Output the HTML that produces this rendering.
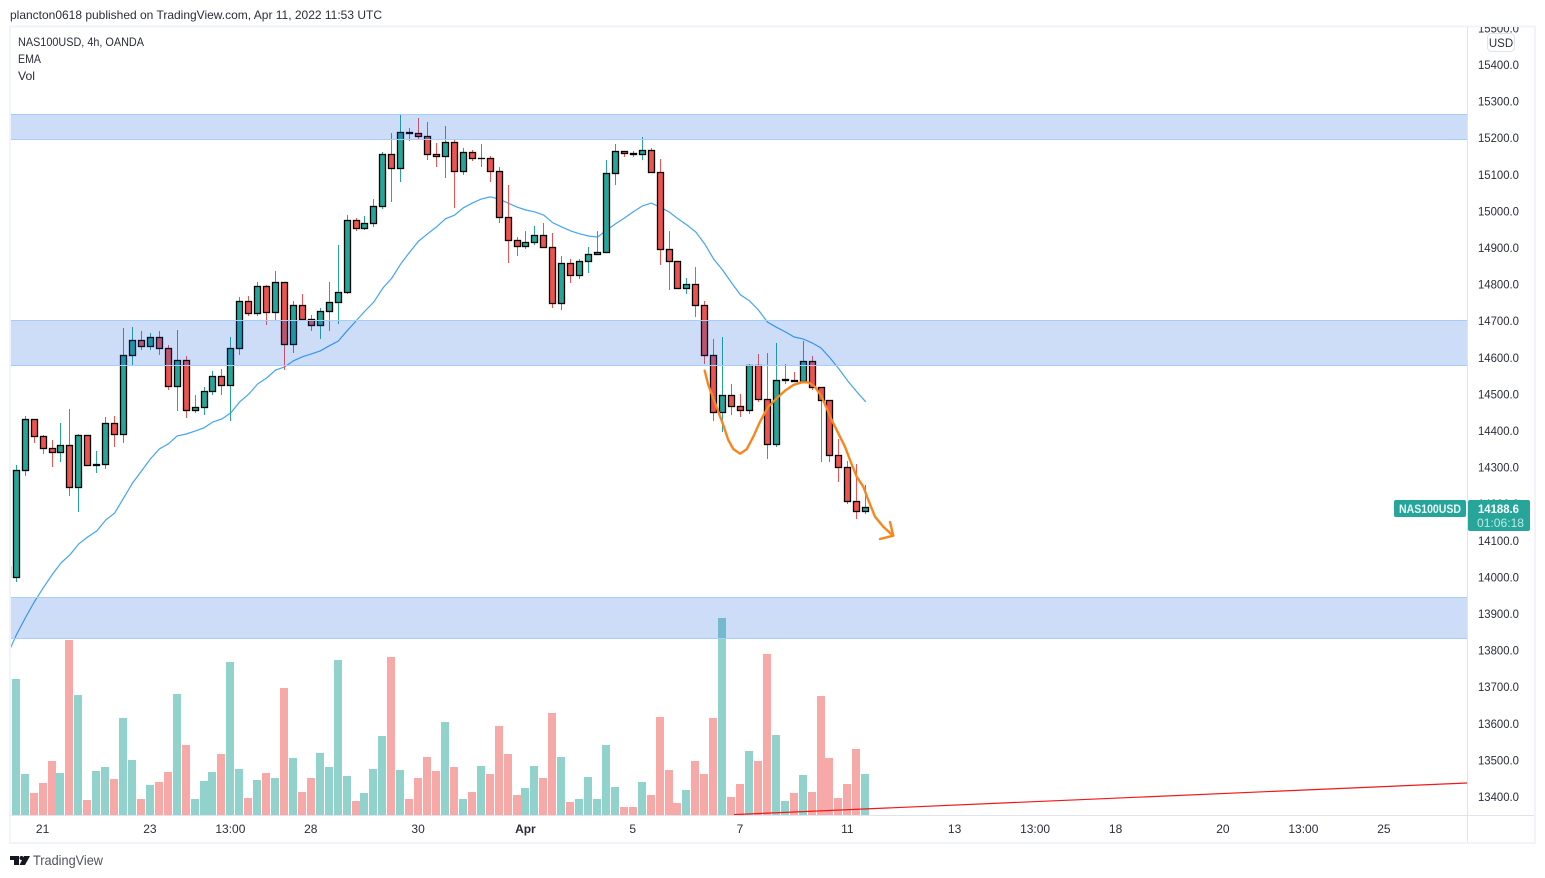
<!DOCTYPE html>
<html lang="en">
<head>
<meta charset="utf-8">
<title>NAS100USD 4h chart</title>
<style>
html,body{margin:0;padding:0;background:#fff;width:1545px;height:878px;overflow:hidden}
svg{display:block;font-family:"Liberation Sans",sans-serif}
</style>
</head>
<body>
<svg id="chart" xmlns="http://www.w3.org/2000/svg" width="1545" height="878" viewBox="0 0 1545 878">
  <defs>
    <clipPath id="pane"><rect x="11" y="27" width="1456" height="788"/></clipPath>
    <clipPath id="scale"><rect x="1468" y="27" width="66" height="788"/></clipPath>
  </defs>
  <rect x="0" y="0" width="1545" height="878" fill="#ffffff"/>
  <text x="10" y="19" font-size="12" fill="#2a2e39" textLength="372" lengthAdjust="spacingAndGlyphs">plancton0618 published on TradingView.com, Apr 11, 2022 11:53 UTC</text>
  <rect x="10" y="26.5" width="1525" height="816.5" fill="none" stroke="#f0f3fa" stroke-width="2"/>

  <g id="volumes" clip-path="url(#pane)"></g>
  <polyline id="ema" clip-path="url(#pane)" fill="none" stroke="#42a5f5" stroke-width="1.2"/>
  <g id="candles" clip-path="url(#pane)"></g>

  <g>
    <rect x="11" y="114.5" width="1456" height="25" fill="rgb(5,85,220)" fill-opacity="0.2"/>
    <rect x="11" y="320.5" width="1456" height="45" fill="rgb(5,85,220)" fill-opacity="0.2"/>
    <rect x="11" y="597.5" width="1456" height="41" fill="rgb(5,85,220)" fill-opacity="0.2"/>
    <path d="M11 114.5H1467M11 139.5H1467M11 320.5H1467M11 365.5H1467M11 597.5H1467M11 638.5H1467" stroke="#a6cdf6" stroke-width="1" fill="none"/>
  </g>

  <g clip-path="url(#pane)">
    <line x1="734" y1="814.6" x2="1467" y2="783" stroke="#f01818" stroke-width="1.2"/>
    <polyline fill="none" stroke="#f7861e" stroke-width="2.4" stroke-linejoin="round" stroke-linecap="round" points="704.7,370.7 708.3,385 713.3,398.3 718.3,411.7 723.3,425 728.3,440 733.3,449 740,453.7 746.7,449.3 753.3,436.7 760,421.7 768.3,406.7 776.7,398.3 785,390.7 793.3,385 801.7,382.3 808.3,382.3 815,386.7 821.7,396.7 826.7,408.3 831.7,420 838.3,433.3 845,446.7 850,460 856.7,476.7 863.3,486.7 868.3,500 875,516.7 883.3,526.7 893,535.7"/>
    <polyline fill="none" stroke="#f7861e" stroke-width="2.4" stroke-linejoin="round" stroke-linecap="round" points="880,539 893.3,535.7 890,522"/>
  </g>

  <text x="18" y="46" font-size="12" fill="#2a2e39" textLength="126" lengthAdjust="spacingAndGlyphs">NAS100USD, 4h, OANDA</text>
  <text x="18" y="63" font-size="12" fill="#2a2e39" textLength="23" lengthAdjust="spacingAndGlyphs">EMA</text>
  <text x="18" y="80" font-size="12" fill="#2a2e39" textLength="17" lengthAdjust="spacingAndGlyphs">Vol</text>

  <line x1="1467.5" y1="27" x2="1467.5" y2="842" stroke="#e0e3eb"/>
  <line x1="11" y1="815.5" x2="1534" y2="815.5" stroke="#e0e3eb"/>
  <g id="priceTicks" clip-path="url(#scale)"></g>
  <g id="timeTicks"></g>

  <rect x="1487.5" y="33.5" width="27" height="18" rx="4" fill="#ffffff" stroke="#e0e3eb"/>
  <text x="1501" y="47" font-size="11.5" fill="#2a2e39" text-anchor="middle">USD</text>

  <rect x="1394" y="500" width="72" height="17" rx="2" fill="#26a69a"/>
  <text x="1399" y="513" font-size="12" font-weight="bold" fill="#eaf6f5" textLength="62" lengthAdjust="spacingAndGlyphs">NAS100USD</text>
  <rect x="1468" y="500" width="62" height="31" rx="2" fill="#26a69a"/>
  <text x="1478" y="513" font-size="12" font-weight="bold" fill="#ffffff" textLength="41" lengthAdjust="spacingAndGlyphs">14188.6</text>
  <text x="1477" y="527" font-size="12" fill="#c4e6e2" textLength="47" lengthAdjust="spacingAndGlyphs">01:06:18</text>

  <g>
    <path d="M10 856h9v9h-5v-5h-4z M24 856h6l-5 9h-5.500z" fill="#131722"/>
    <circle cx="21.500" cy="858" r="2" fill="#131722"/>
    <text x="33" y="865" font-size="14" fill="#50535e" textLength="70" lengthAdjust="spacingAndGlyphs">TradingView</text>
  </g>

<script>
// The first entry in each array is the bar just left of the visible pane.
const opens = [14026,13998,14290,14429,14383,14350,14339,14358,14244,14386,14304,14306,14418,14388,14604,14645,14629,14653,14623,14519,14591,14454,14462,14506,14547,14522,14623,14752,14719,14793,14722,14804,14634,14741,14703,14686,14724,14749,14776,14973,14951,14965,15011,15153,15115,15213,15211,15202,15153,15148,15186,15107,15159,15141,15142,15107,14981,14918,14902,14913,14932,14899,14746,14856,14823,14861,14880,14886,15101,15162,15156,15153,15164,15104,14894,14861,14787,14798,14741,14604,14448,14495,14465,14454,14577,14484,14361,14536,14536,14533,14588,14517,14481,14331,14298,14205,14178];
const closes = [13998,14290,14429,14383,14350,14339,14358,14244,14386,14304,14305,14418,14388,14604,14645,14629,14653,14623,14519,14591,14454,14462,14506,14547,14522,14623,14752,14719,14793,14722,14804,14634,14741,14703,14686,14724,14749,14776,14973,14951,14965,15011,15153,15115,15213,15211,15202,15153,15147,15186,15107,15159,15141,15142,15107,14981,14918,14902,14913,14932,14899,14746,14856,14823,14861,14880,14886,15101,15162,15156,15153,15164,15104,14894,14861,14787,14798,14741,14604,14448,14495,14465,14454,14577,14484,14361,14536,14537,14533,14588,14517,14481,14331,14298,14205,14178,14188.6];
const highs = [14026,14304,14436,14429,14386,14370,14419,14457,14389,14386,14340,14433,14438,14676,14681,14668,14665,14668,14630,14673,14600,14493,14515,14561,14564,14654,14761,14766,14804,14796,14832,14804,14750,14769,14712,14731,14804,14903,14987,14979,14982,15031,15157,15211,15261,15225,15252,15239,15184,15228,15190,15168,15165,15181,15146,15116,15067,14925,14941,14955,14963,14936,14873,14865,14865,14900,14941,15135,15179,15162,15160,15198,15168,15138,14941,14861,14813,14843,14750,14646,14654,14523,14498,14580,14605,14610,14635,14578,14556,14643,14602,14517,14481,14373,14313,14307,14247];
const lows = [13998,13985,14277,14365,14335,14299,14315,14220,14176,14304,14285,14294,14354,14367,14575,14621,14619,14605,14512,14452,14433,14447,14441,14496,14496,14425,14605,14712,14714,14687,14698,14564,14613,14701,14673,14651,14673,14692,14772,14946,14949,14955,15004,15023,15080,15192,15195,15138,15119,15091,15009,15097,15135,15119,15078,14966,14859,14878,14895,14906,14899,14736,14728,14804,14813,14829,14880,14886,15072,15146,15146,15140,15104,14851,14783,14787,14774,14709,14583,14425,14397,14441,14436,14444,14477,14321,14356,14526,14533,14533,14512,14315,14313,14258,14198,14157,14171];
const volumes = [235,408,123,66,96,162,126,525,360,45,132,144,108,291,165,48,90,99,129,363,210,48,102,129,183,459,138,51,105,126,111,381,171,69,111,186,144,465,117,42,66,138,237,474,135,48,111,174,132,279,144,48,69,147,123,267,183,60,81,147,111,306,174,39,48,114,48,210,84,24,24,99,60,294,135,36,75,162,123,291,591,54,93,192,162,483,240,42,66,120,69,357,171,51,93,198,123];
const emaValues = [13785,13840,13886,13930,13968,14004,14037,14059,14089,14108,14124,14154,14173,14214,14255,14288,14321,14348,14362,14384,14389,14397,14406,14422,14430,14447,14477,14498,14526,14542,14564,14572,14589,14600,14608,14616,14630,14643,14671,14698,14725,14750,14788,14815,14854,14886,14916,14936,14955,14977,14987,15007,15020,15031,15037,15031,15020,15009,15001,14996,14987,14966,14955,14944,14936,14930,14927,14946,14963,14979,14996,15012,15020,15009,14996,14977,14960,14941,14908,14867,14837,14802,14769,14753,14728,14695,14681,14668,14654,14649,14638,14624,14597,14567,14534,14504,14477];
const priceTickLabels = ["15500.0","15400.0","15300.0","15200.0","15100.0","15000.0","14900.0","14800.0","14700.0","14600.0","14500.0","14400.0","14300.0","14200.0","14100.0","14000.0","13900.0","13800.0","13700.0","13600.0","13500.0","13400.0"];
const timeTickLabels = ["21","23","13:00","28","30","Apr","5","7","11","13","13:00","18","20","13:00","25"];
const timeTickBars = [3,15,24,33,45,57,69,81,93,105,114,123,135,144,153];

const NS = "http://www.w3.org/2000/svg";
const UP = "#26a69a", DOWN = "#ef5350";
function xOfBar(bar){ return 16.27 + 8.9417 * bar; }
function yOfPrice(p){ return 64 + (15400 - p) * 0.366; }
function yOfVolume(v){ return 815 - v / 3; }
function svgEl(tag, attrs){
  const el = document.createElementNS(NS, tag);
  for (const k in attrs) el.setAttribute(k, attrs[k]);
  return el;
}

const volumeLayer = document.getElementById("volumes");
const candleLayer = document.getElementById("candles");
opens.forEach(function(open, k){
  const bar = k - 1;
  const px = Math.floor(xOfBar(bar));
  const up = closes[k] >= open;
  const color = up ? UP : DOWN;

  const vTop = Math.round(yOfVolume(volumes[k]));
  const vol = svgEl("rect", {x: px - 4, y: vTop, width: 8, height: 815 - vTop, fill: up ? "#92d2cc" : "#f7a9a7"});
  
  
  volumeLayer.appendChild(vol);

  const g = svgEl("g", {});
  
  

  const yH = Math.floor(yOfPrice(highs[k]));
  const yL = Math.ceil(yOfPrice(lows[k]));
  const wick = svgEl("rect", {x: px, y: yH, width: 1, height: Math.max(yL - yH, 1), fill: color});
  
  
  g.appendChild(wick);

  const top = Math.floor(yOfPrice(Math.max(open, closes[k])));
  const bottom = Math.floor(yOfPrice(Math.min(open, closes[k])));
  const body = svgEl("rect", {x: px - 2.5, y: top + 0.5, width: 6, height: Math.max(bottom - top, 0.01), fill: color, stroke: "#000000", "stroke-width": 1.3});
  
  
  g.appendChild(body);

  candleLayer.appendChild(g);
});

document.getElementById("ema").setAttribute("points",
  emaValues.map(function(v, k){ return xOfBar(k - 1).toFixed(1) + "," + yOfPrice(v).toFixed(1); }).join(" "));

const priceLayer = document.getElementById("priceTicks");
priceTickLabels.forEach(function(label){
  const t = svgEl("text", {x: 1478, y: (yOfPrice(parseFloat(label)) + 5).toFixed(1), "font-size": 12, fill: "#2a2e39", textLength: 41, lengthAdjust: "spacingAndGlyphs"});
  
  
  t.textContent = label;
  priceLayer.appendChild(t);
});

const timeLayer = document.getElementById("timeTicks");
timeTickLabels.forEach(function(label, k){
  const t = svgEl("text", {x: (xOfBar(timeTickBars[k]) - 0.5).toFixed(1), y: 833, "font-size": 12, fill: "#2a2e39", "text-anchor": "middle"});
  if (label === "Apr") t.setAttribute("font-weight", "bold");
  
  
  t.textContent = label;
  timeLayer.appendChild(t);
});
</script>
</svg>
</body>
</html>
